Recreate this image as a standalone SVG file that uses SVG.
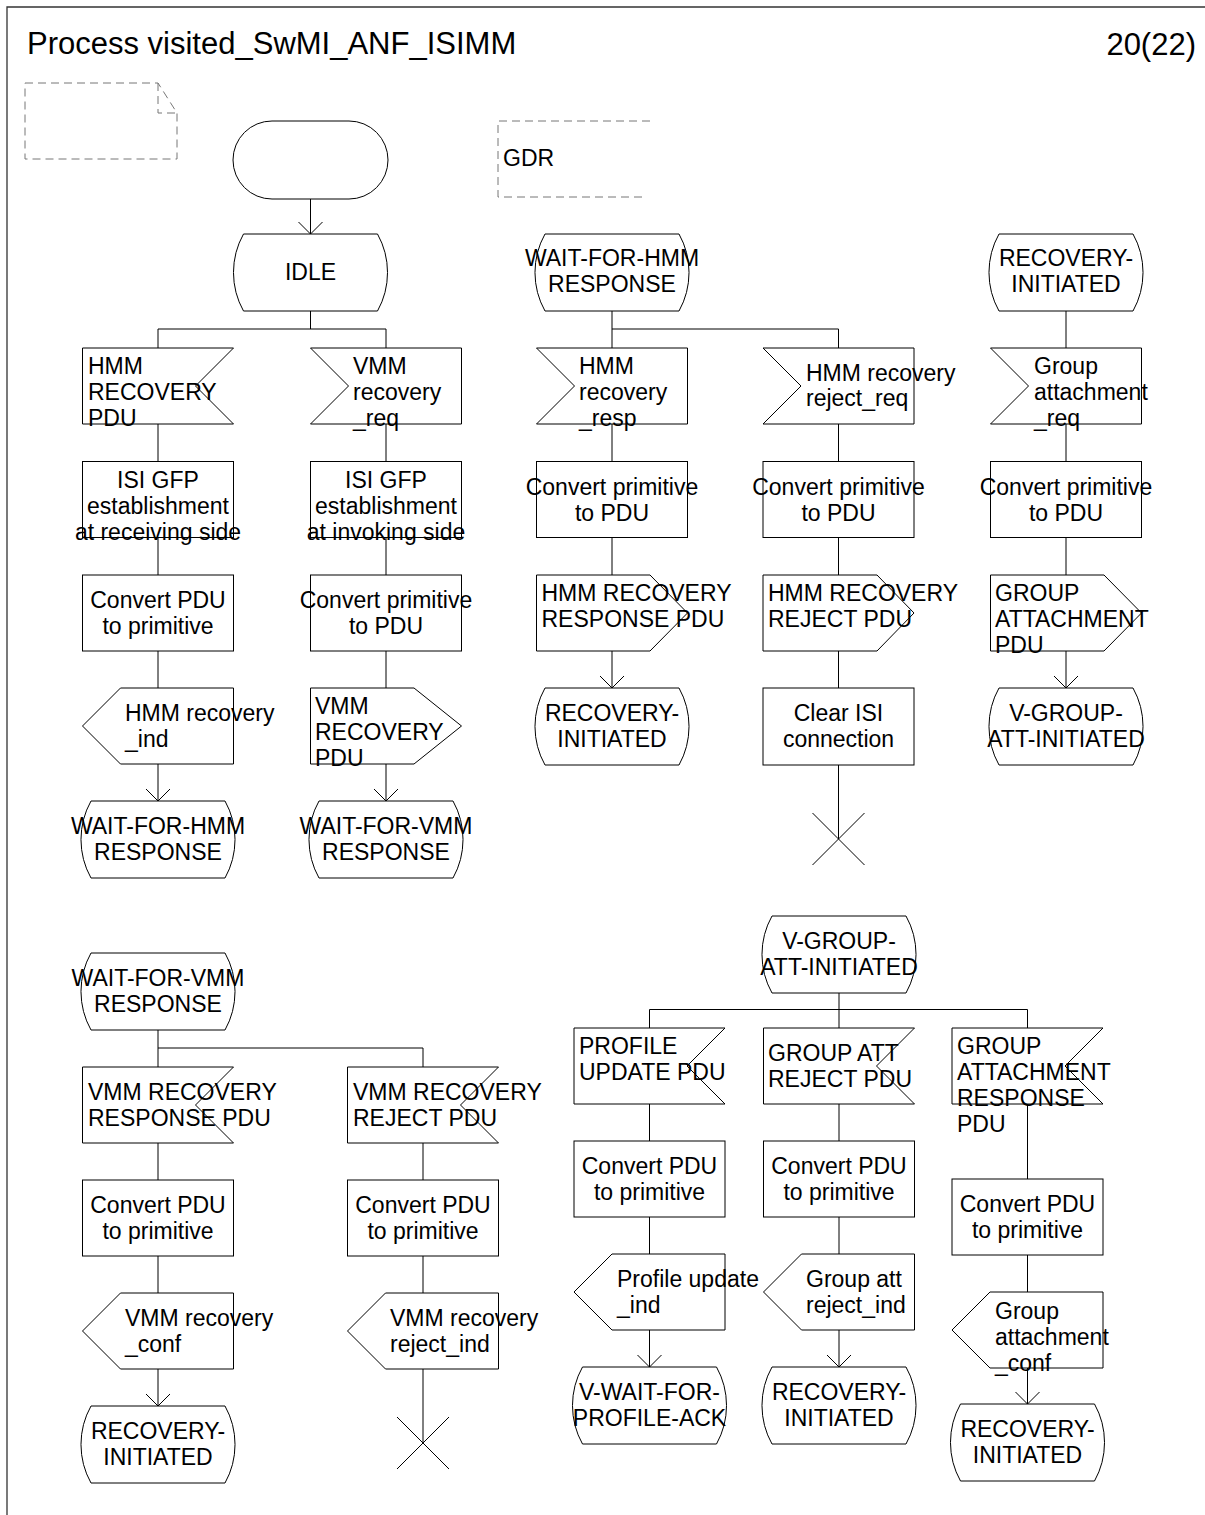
<svg xmlns="http://www.w3.org/2000/svg" width="1205" height="1515" viewBox="0 0 1205 1515">
<defs>
<style>
.s{fill:#fff;stroke:#000;stroke-width:1}
.f{fill:none;stroke:#000;stroke-width:1}
.d{fill:none;stroke:#777;stroke-width:1;stroke-dasharray:8 5}
.t{font-family:"Liberation Sans",Arial,sans-serif;font-size:23px;fill:#000}
.c{text-anchor:middle}
.h{font-size:31px}
</style>
<marker id="arr" markerWidth="26" markerHeight="26" refX="13" refY="13" markerUnits="userSpaceOnUse" orient="auto" overflow="visible">
<path d="M1,1 L13,13 L1,25" fill="none" stroke="#000" stroke-width="1"/>
</marker>
</defs>
<rect x="0" y="0" width="1205" height="1515" fill="#fff"/>
<g id="frame">
<path d="M7,1520 V7 H1210" fill="none" stroke="#333" stroke-width="1.3"/>
<text class="t h" x="27" y="54">Process visited_SwMI_ANF_ISIMM</text>
<text class="t h" x="1196" y="55" text-anchor="end">20(22)</text>
</g>
<g id="note"><path class="d" d="M25,83 H158 L177,113 V159 H25 Z M158,83 V113 H177"/></g>
<g id="gdr"><path class="d" d="M650,121 H498 V197 H645"/><text class="t" x="503" y="166">GDR</text></g>

<g id="connectors">
<path class="f" d="M310.5,199 V234" marker-end="url(#arr)"/>
<path class="f" d="M310.5,311 V329 M158,329 H386 M158,329 V348 M386,329 V348"/>
<path class="f" d="M158,424 V461.5 M158,537.5 V575 M158,651 V688"/>
<path class="f" d="M158,764 V801" marker-end="url(#arr)"/>
<path class="f" d="M386,424 V461.5 M386,537.5 V575 M386,651 V688"/>
<path class="f" d="M386,764 V801" marker-end="url(#arr)"/>
<path class="f" d="M612,311 V329 H838.5 V348 M612,329 V348 M612,424 V461.5 M612,537.5 V575"/>
<path class="f" d="M612,651 V688" marker-end="url(#arr)"/>
<path class="f" d="M838.5,424 V461.5 M838.5,537.5 V575 M838.5,651 V688 M838.5,765 V839"/>
<path class="f" d="M812.5,813 L864.5,865 M864.5,813 L812.5,865"/>
<path class="f" d="M1066,311 V348 M1066,424 V461.5 M1066,537.5 V575"/>
<path class="f" d="M1066,651 V688" marker-end="url(#arr)"/>
<path class="f" d="M158,1030 V1048 H423 V1067 M158,1048 V1067 M158,1143 V1180 M158,1256 V1293"/>
<path class="f" d="M158,1369 V1406" marker-end="url(#arr)"/>
<path class="f" d="M423,1143 V1180 M423,1256 V1293 M423,1369 V1443"/>
<path class="f" d="M397,1417 L449,1469 M449,1417 L397,1469"/>
<path class="f" d="M839,993 V1009.5 M649.5,1009.5 H1027.5 M649.5,1009.5 V1028 M839,1009.5 V1028 M1027.5,1009.5 V1028"/>
<path class="f" d="M649.5,1104 V1141 M649.5,1217 V1254"/>
<path class="f" d="M649.5,1330 V1367" marker-end="url(#arr)"/>
<path class="f" d="M839,1104 V1141 M839,1217 V1254"/>
<path class="f" d="M839,1330 V1367" marker-end="url(#arr)"/>
<path class="f" d="M1027.5,1104 V1179 M1027.5,1255 V1292"/>
<path class="f" d="M1027.5,1368 V1404" marker-end="url(#arr)"/>
</g>

<g id="start"><rect class="s" x="233" y="121" width="155" height="78" rx="39" ry="39"/></g>
<g id="idle"><path class="s" d="M243.5,234 H377.5 A79,79 0 0 1 377.5,311 H243.5 A79,79 0 0 1 243.5,234 Z"/><text class="t c" x="310.5" y="280">IDLE</text></g>

<!-- Column A -->
<g id="a1"><path class="s" d="M82.5,348 H233.5 L195.5,386 L233.5,424 H82.5 Z"/><text class="t"><tspan x="88" y="374">HMM</tspan><tspan x="88" y="400">RECOVERY</tspan><tspan x="88" y="426">PDU</tspan></text></g>
<g id="a2"><rect class="s" x="82.5" y="461.5" width="151" height="76"/><text class="t c"><tspan x="158" y="488">ISI GFP</tspan><tspan x="158" y="514">establishment</tspan><tspan x="158" y="540">at receiving side</tspan></text></g>
<g id="a3"><rect class="s" x="82.5" y="575" width="151" height="76"/><text class="t c"><tspan x="158" y="608">Convert PDU</tspan><tspan x="158" y="634">to primitive</tspan></text></g>
<g id="a4"><path class="s" d="M120.5,688 H233.5 V764 H120.5 L82.5,726 Z"/><text class="t"><tspan x="125" y="721">HMM recovery</tspan><tspan x="125" y="747">_ind</tspan></text></g>
<g id="a5"><path class="s" d="M91,801 H225 A79,79 0 0 1 225,878 H91 A79,79 0 0 1 91,801 Z"/><text class="t c"><tspan x="158" y="834">WAIT-FOR-HMM</tspan><tspan x="158" y="860">RESPONSE</tspan></text></g>

<!-- Column B -->
<g id="b1"><path class="s" d="M310.5,348 H461.5 V424 H310.5 L348.5,386 Z"/><text class="t"><tspan x="353" y="374">VMM</tspan><tspan x="353" y="400">recovery</tspan><tspan x="353" y="426">_req</tspan></text></g>
<g id="b2"><rect class="s" x="310.5" y="461.5" width="151" height="76"/><text class="t c"><tspan x="386" y="488">ISI GFP</tspan><tspan x="386" y="514">establishment</tspan><tspan x="386" y="540">at invoking side</tspan></text></g>
<g id="b3"><rect class="s" x="310.5" y="575" width="151" height="76"/><text class="t c"><tspan x="386" y="608">Convert primitive</tspan><tspan x="386" y="634">to PDU</tspan></text></g>
<g id="b4"><path class="s" d="M310.5,688 H414 L461.5,726 L414,764 H310.5 Z"/><text class="t"><tspan x="315" y="714">VMM</tspan><tspan x="315" y="740">RECOVERY</tspan><tspan x="315" y="766">PDU</tspan></text></g>
<g id="b5"><path class="s" d="M319,801 H453 A79,79 0 0 1 453,878 H319 A79,79 0 0 1 319,801 Z"/><text class="t c"><tspan x="386" y="834">WAIT-FOR-VMM</tspan><tspan x="386" y="860">RESPONSE</tspan></text></g>

<!-- Column C -->
<g id="c0"><path class="s" d="M545,234 H679 A79,79 0 0 1 679,311 H545 A79,79 0 0 1 545,234 Z"/><text class="t c"><tspan x="612" y="266">WAIT-FOR-HMM</tspan><tspan x="612" y="292">RESPONSE</tspan></text></g>
<g id="c1"><path class="s" d="M536.5,348 H687.5 V424 H536.5 L574.5,386 Z"/><text class="t"><tspan x="579" y="374">HMM</tspan><tspan x="579" y="400">recovery</tspan><tspan x="579" y="426">_resp</tspan></text></g>
<g id="c2"><rect class="s" x="536.5" y="461.5" width="151" height="76"/><text class="t c"><tspan x="612" y="495">Convert primitive</tspan><tspan x="612" y="521">to PDU</tspan></text></g>
<g id="c3"><path class="s" d="M536.5,575 H650 L687.5,613 L650,651 H536.5 Z"/><text class="t"><tspan x="541.5" y="601">HMM RECOVERY</tspan><tspan x="541.5" y="627">RESPONSE PDU</tspan></text></g>
<g id="c4"><path class="s" d="M545,688 H679 A79,79 0 0 1 679,765 H545 A79,79 0 0 1 545,688 Z"/><text class="t c"><tspan x="612" y="721">RECOVERY-</tspan><tspan x="612" y="747">INITIATED</tspan></text></g>

<!-- Column D -->
<g id="d1"><path class="s" d="M763,348 H914 V424 H763 L801,386 Z"/><text class="t"><tspan x="806" y="381">HMM recovery</tspan><tspan x="806" y="406">reject_req</tspan></text></g>
<g id="d2"><rect class="s" x="763" y="461.5" width="151" height="76"/><text class="t c"><tspan x="838.5" y="495">Convert primitive</tspan><tspan x="838.5" y="521">to PDU</tspan></text></g>
<g id="d3"><path class="s" d="M763,575 H877 L914,613 L877,651 H763 Z"/><text class="t"><tspan x="768" y="601">HMM RECOVERY</tspan><tspan x="768" y="627">REJECT PDU</tspan></text></g>
<g id="d4"><rect class="s" x="763" y="688" width="151" height="77"/><text class="t c"><tspan x="838.5" y="721">Clear ISI</tspan><tspan x="838.5" y="747">connection</tspan></text></g>

<!-- Column E -->
<g id="e0"><path class="s" d="M999,234 H1133 A79,79 0 0 1 1133,311 H999 A79,79 0 0 1 999,234 Z"/><text class="t c"><tspan x="1066" y="266">RECOVERY-</tspan><tspan x="1066" y="292">INITIATED</tspan></text></g>
<g id="e1"><path class="s" d="M990.5,348 H1141.5 V424 H990.5 L1028.5,386 Z"/><text class="t"><tspan x="1034" y="374">Group</tspan><tspan x="1034" y="400">attachment</tspan><tspan x="1034" y="426">_req</tspan></text></g>
<g id="e2"><rect class="s" x="990.5" y="461.5" width="151" height="76"/><text class="t c"><tspan x="1066" y="495">Convert primitive</tspan><tspan x="1066" y="521">to PDU</tspan></text></g>
<g id="e3"><path class="s" d="M990.5,575 H1104 L1141.5,613 L1104,651 H990.5 Z"/><text class="t"><tspan x="995" y="601">GROUP</tspan><tspan x="995" y="627">ATTACHMENT</tspan><tspan x="995" y="653">PDU</tspan></text></g>
<g id="e4"><path class="s" d="M999,688 H1133 A79,79 0 0 1 1133,765 H999 A79,79 0 0 1 999,688 Z"/><text class="t c"><tspan x="1066" y="721">V-GROUP-</tspan><tspan x="1066" y="747">ATT-INITIATED</tspan></text></g>

<!-- Column F -->
<g id="f0"><path class="s" d="M91,953 H225 A79,79 0 0 1 225,1030 H91 A79,79 0 0 1 91,953 Z"/><text class="t c"><tspan x="158" y="986">WAIT-FOR-VMM</tspan><tspan x="158" y="1012">RESPONSE</tspan></text></g>
<g id="f1"><path class="s" d="M82.5,1067 H233.5 L195.5,1105 L233.5,1143 H82.5 Z"/><text class="t"><tspan x="88" y="1100">VMM RECOVERY</tspan><tspan x="88" y="1126">RESPONSE PDU</tspan></text></g>
<g id="f2"><rect class="s" x="82.5" y="1180" width="151" height="76"/><text class="t c"><tspan x="158" y="1213">Convert PDU</tspan><tspan x="158" y="1239">to primitive</tspan></text></g>
<g id="f3"><path class="s" d="M120.5,1293 H233.5 V1369 H120.5 L82.5,1331 Z"/><text class="t"><tspan x="125" y="1326">VMM recovery</tspan><tspan x="125" y="1352">_conf</tspan></text></g>
<g id="f4"><path class="s" d="M91,1406 H225 A79,79 0 0 1 225,1483 H91 A79,79 0 0 1 91,1406 Z"/><text class="t c"><tspan x="158" y="1439">RECOVERY-</tspan><tspan x="158" y="1465">INITIATED</tspan></text></g>

<!-- Column G -->
<g id="g1"><path class="s" d="M347.5,1067 H498.5 L460.5,1105 L498.5,1143 H347.5 Z"/><text class="t"><tspan x="353" y="1100">VMM RECOVERY</tspan><tspan x="353" y="1126">REJECT PDU</tspan></text></g>
<g id="g2"><rect class="s" x="347.5" y="1180" width="151" height="76"/><text class="t c"><tspan x="423" y="1213">Convert PDU</tspan><tspan x="423" y="1239">to primitive</tspan></text></g>
<g id="g3"><path class="s" d="M385.5,1293 H498.5 V1369 H385.5 L347.5,1331 Z"/><text class="t"><tspan x="390" y="1326">VMM recovery</tspan><tspan x="390" y="1352">reject_ind</tspan></text></g>

<!-- V-GROUP section -->
<g id="v0"><path class="s" d="M772,916 H906 A79,79 0 0 1 906,993 H772 A79,79 0 0 1 772,916 Z"/><text class="t c"><tspan x="839" y="949">V-GROUP-</tspan><tspan x="839" y="975">ATT-INITIATED</tspan></text></g>

<g id="h1"><path class="s" d="M574,1028 H725 L687,1066 L725,1104 H574 Z"/><text class="t"><tspan x="579" y="1054">PROFILE</tspan><tspan x="579" y="1080">UPDATE PDU</tspan></text></g>
<g id="h2"><rect class="s" x="574" y="1141" width="151" height="76"/><text class="t c"><tspan x="649.5" y="1174">Convert PDU</tspan><tspan x="649.5" y="1200">to primitive</tspan></text></g>
<g id="h3"><path class="s" d="M612,1254 H725 V1330 H612 L574,1292 Z"/><text class="t"><tspan x="617" y="1287">Profile update</tspan><tspan x="617" y="1313">_ind</tspan></text></g>
<g id="h4"><path class="s" d="M582.5,1367 H716.5 A79,79 0 0 1 716.5,1444 H582.5 A79,79 0 0 1 582.5,1367 Z"/><text class="t c"><tspan x="649.5" y="1400">V-WAIT-FOR-</tspan><tspan x="649.5" y="1426">PROFILE-ACK</tspan></text></g>

<g id="i1"><path class="s" d="M763.5,1028 H914.5 L876.5,1066 L914.5,1104 H763.5 Z"/><text class="t"><tspan x="768" y="1061">GROUP ATT</tspan><tspan x="768" y="1087">REJECT PDU</tspan></text></g>
<g id="i2"><rect class="s" x="763.5" y="1141" width="151" height="76"/><text class="t c"><tspan x="839" y="1174">Convert PDU</tspan><tspan x="839" y="1200">to primitive</tspan></text></g>
<g id="i3"><path class="s" d="M801.5,1254 H914.5 V1330 H801.5 L763.5,1292 Z"/><text class="t"><tspan x="806" y="1287">Group att</tspan><tspan x="806" y="1313">reject_ind</tspan></text></g>
<g id="i4"><path class="s" d="M772,1367 H906 A79,79 0 0 1 906,1444 H772 A79,79 0 0 1 772,1367 Z"/><text class="t c"><tspan x="839" y="1400">RECOVERY-</tspan><tspan x="839" y="1426">INITIATED</tspan></text></g>

<g id="j1"><path class="s" d="M952,1028 H1103 L1065,1066 L1103,1104 H952 Z"/><text class="t"><tspan x="957" y="1054">GROUP</tspan><tspan x="957" y="1080">ATTACHMENT</tspan><tspan x="957" y="1106">RESPONSE</tspan><tspan x="957" y="1132">PDU</tspan></text></g>
<g id="j2"><rect class="s" x="952" y="1179" width="151" height="76"/><text class="t c"><tspan x="1027.5" y="1212">Convert PDU</tspan><tspan x="1027.5" y="1238">to primitive</tspan></text></g>
<g id="j3"><path class="s" d="M990,1292 H1103 V1368 H990 L952,1330 Z"/><text class="t"><tspan x="995" y="1319">Group</tspan><tspan x="995" y="1345">attachment</tspan><tspan x="995" y="1371">_conf</tspan></text></g>
<g id="j4"><path class="s" d="M960.5,1404 H1094.5 A79,79 0 0 1 1094.5,1481 H960.5 A79,79 0 0 1 960.5,1404 Z"/><text class="t c"><tspan x="1027.5" y="1437">RECOVERY-</tspan><tspan x="1027.5" y="1463">INITIATED</tspan></text></g>
</svg>
